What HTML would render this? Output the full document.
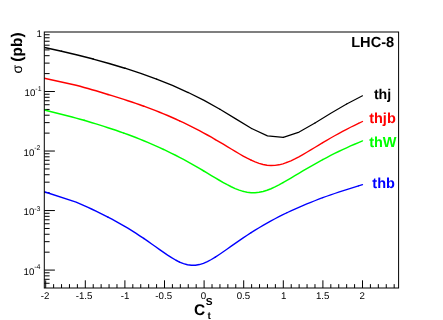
<!DOCTYPE html>
<html><head><meta charset="utf-8"><title>plot</title>
<style>
html,body{margin:0;padding:0;background:#ffffff;}
body{width:443px;height:320px;overflow:hidden;font-family:"Liberation Sans",sans-serif;}
svg{display:block;will-change:transform;}
text{font-family:"Liberation Sans",sans-serif;text-rendering:geometricPrecision;}
.b{font-weight:bold;}
</style></head><body>
<svg width="443" height="320" viewBox="0 0 443 320">
<rect x="0" y="0" width="443" height="320" fill="#ffffff"/>
<defs><clipPath id="fr"><rect x="44.3" y="32.0" width="354.30" height="256.00"/></clipPath></defs>

<path d="M45.70,288.0 v-7.7 M53.62,288.0 v-3.85 M61.54,288.0 v-3.85 M69.46,288.0 v-3.85 M77.38,288.0 v-3.85 M85.30,288.0 v-7.7 M93.22,288.0 v-3.85 M101.14,288.0 v-3.85 M109.06,288.0 v-3.85 M116.98,288.0 v-3.85 M124.90,288.0 v-7.7 M132.82,288.0 v-3.85 M140.74,288.0 v-3.85 M148.66,288.0 v-3.85 M156.58,288.0 v-3.85 M164.50,288.0 v-7.7 M172.42,288.0 v-3.85 M180.34,288.0 v-3.85 M188.26,288.0 v-3.85 M196.18,288.0 v-3.85 M204.10,288.0 v-7.7 M212.02,288.0 v-3.85 M219.94,288.0 v-3.85 M227.86,288.0 v-3.85 M235.78,288.0 v-3.85 M243.70,288.0 v-7.7 M251.62,288.0 v-3.85 M259.54,288.0 v-3.85 M267.46,288.0 v-3.85 M275.38,288.0 v-3.85 M283.30,288.0 v-7.7 M291.22,288.0 v-3.85 M299.14,288.0 v-3.85 M307.06,288.0 v-3.85 M314.98,288.0 v-3.85 M322.90,288.0 v-7.7 M330.82,288.0 v-3.85 M338.74,288.0 v-3.85 M346.66,288.0 v-3.85 M354.58,288.0 v-3.85 M362.50,288.0 v-7.7 M370.42,288.0 v-3.85 M378.34,288.0 v-3.85 M386.26,288.0 v-3.85 M394.18,288.0 v-3.85" stroke="#000" stroke-width="1" fill="none"/>
<path d="M44.3,91.52 h10.6 M44.3,73.60 h5.3 M44.3,63.12 h5.3 M44.3,55.69 h5.3 M44.3,49.92 h5.3 M44.3,45.20 h5.3 M44.3,41.22 h5.3 M44.3,37.77 h5.3 M44.3,34.72 h5.3 M44.3,151.04 h10.6 M44.3,133.12 h5.3 M44.3,122.64 h5.3 M44.3,115.21 h5.3 M44.3,109.44 h5.3 M44.3,104.72 h5.3 M44.3,100.74 h5.3 M44.3,97.29 h5.3 M44.3,94.24 h5.3 M44.3,210.56 h10.6 M44.3,192.64 h5.3 M44.3,182.16 h5.3 M44.3,174.73 h5.3 M44.3,168.96 h5.3 M44.3,164.24 h5.3 M44.3,160.26 h5.3 M44.3,156.81 h5.3 M44.3,153.76 h5.3 M44.3,270.08 h10.6 M44.3,252.16 h5.3 M44.3,241.68 h5.3 M44.3,234.25 h5.3 M44.3,228.48 h5.3 M44.3,223.76 h5.3 M44.3,219.78 h5.3 M44.3,216.33 h5.3 M44.3,213.28 h5.3 M44.3,283.28 h5.3 M44.3,279.30 h5.3 M44.3,275.85 h5.3 M44.3,272.80 h5.3" stroke="#000" stroke-width="1" fill="none"/>
<g clip-path="url(#fr)" fill="none" stroke="#000000" stroke-linejoin="round" stroke-linecap="round">
<path d="M44.30,47.45 L45.70,47.75 L61.54,51.27" stroke-width="1.53"/>
<path d="M61.54,51.27 L77.38,55.04 L93.22,59.09" stroke-width="1.48"/>
<path d="M93.22,59.09 L109.06,63.46 L124.90,68.21" stroke-width="1.44"/>
<path d="M124.90,68.21 L140.74,73.40 L156.58,79.12" stroke-width="1.39"/>
<path d="M156.58,79.12 L172.42,85.46 L188.26,92.52" stroke-width="1.35"/>
<path d="M188.26,92.52 L204.10,100.44 L219.94,109.27" stroke-width="1.30"/>
<path d="M219.94,109.27 L235.78,118.89 L251.62,128.51" stroke-width="1.26"/>
<path d="M251.62,128.51 L267.46,135.83 L283.30,137.35" stroke-width="1.21"/>
<path d="M283.30,137.35 L299.14,132.08 L314.98,123.05" stroke-width="1.17"/>
<path d="M314.98,123.05 L330.82,113.27 L346.66,104.07" stroke-width="1.12"/>
<path d="M346.66,104.07 L362.50,95.76" stroke-width="1.09"/>
</g>
<g clip-path="url(#fr)" fill="none" stroke="#ff0000" stroke-linejoin="round" stroke-linecap="round">
<path d="M44.30,78.30 L76.12,85.28 L80.10,86.35 L84.07,87.45 L88.05,88.56 L92.03,89.70 L96.01,90.85 L99.98,92.03 L103.96,93.23 L107.94,94.46" stroke-width="1.53"/>
<path d="M107.94,94.46 L111.92,95.65 L115.89,96.86 L119.87,98.10 L123.85,99.37 L127.83,100.67 L131.81,102.00 L135.78,103.36 L139.76,104.75 L143.74,106.18" stroke-width="1.50"/>
<path d="M143.74,106.18 L147.72,107.64 L151.69,109.14 L155.67,110.68 L159.65,112.26 L163.62,113.88 L167.60,115.55 L171.58,117.26 L175.56,119.02 L179.53,120.83" stroke-width="1.47"/>
<path d="M179.53,120.83 L183.51,122.69 L187.49,124.61 L191.47,126.57 L195.44,128.60 L199.42,130.67 L203.40,132.81 L207.38,135.00 L211.36,137.24 L215.33,139.53" stroke-width="1.44"/>
<path d="M215.33,139.53 L219.31,141.86 L223.29,144.23 L227.26,146.62 L231.24,149.02 L235.22,151.41 L239.20,153.76 L243.18,156.02 L247.15,158.17 L251.13,160.15" stroke-width="1.41"/>
<path d="M251.13,160.15 L255.11,161.91 L259.08,163.37 L263.06,164.49 L267.04,165.22 L271.02,165.52 L275.00,165.38 L278.97,164.80 L282.95,163.81 L286.93,162.46" stroke-width="1.38"/>
<path d="M286.93,162.46 L290.90,160.80 L294.88,158.89 L298.86,156.80 L302.84,154.56 L306.81,152.24 L310.79,149.87 L314.77,147.47 L318.75,145.07 L322.73,142.69" stroke-width="1.35"/>
<path d="M322.73,142.69 L326.70,140.34 L330.68,138.04 L334.66,135.78 L338.63,133.57 L342.61,131.42 L346.59,129.32 L350.57,127.28 L354.55,125.29 L358.52,123.36" stroke-width="1.32"/>
<path d="M358.52,123.36 L362.50,121.48" stroke-width="1.30"/>
</g>
<g clip-path="url(#fr)" fill="none" stroke="#00ff00" stroke-linejoin="round" stroke-linecap="round">
<path d="M44.30,109.98 L48.28,110.94 L52.26,111.91 L56.23,112.89 L60.21,113.90 L64.19,114.92 L68.16,115.97 L72.14,117.03 L76.12,118.12 L80.10,119.22 L84.07,120.35" stroke-width="1.54"/>
<path d="M84.07,120.35 L88.05,121.51 L92.03,122.68 L96.01,123.89 L99.98,125.12 L103.96,126.37 L107.94,127.66 L111.92,128.98 L115.89,130.32 L119.87,131.70 L123.85,133.12" stroke-width="1.52"/>
<path d="M123.85,133.12 L127.83,134.56 L131.81,136.05 L135.78,137.57 L139.76,139.14 L143.74,140.74 L147.72,142.39 L151.69,144.08 L155.67,145.82 L159.65,147.61 L163.62,149.45" stroke-width="1.50"/>
<path d="M163.62,149.45 L167.60,151.34 L171.58,153.29 L175.56,155.28 L179.53,157.34 L183.51,159.45 L187.49,161.61 L191.47,163.82 L195.44,166.09 L199.42,168.40 L203.40,170.75" stroke-width="1.48"/>
<path d="M203.40,170.75 L207.38,173.13 L211.36,175.51 L215.33,177.90 L219.31,180.25 L223.29,182.54 L227.26,184.72 L231.24,186.76 L235.22,188.58 L239.20,190.15 L243.18,191.39" stroke-width="1.47"/>
<path d="M243.18,191.39 L247.15,192.26 L251.13,192.72 L255.11,192.74 L259.08,192.32 L263.06,191.48 L267.04,190.27 L271.02,188.73 L275.00,186.92 L278.97,184.90 L282.95,182.73" stroke-width="1.45"/>
<path d="M282.95,182.73 L286.93,180.44 L290.90,178.10 L294.88,175.72 L298.86,173.33 L302.84,170.95 L306.81,168.60 L310.79,166.28 L314.77,164.01 L318.75,161.79 L322.73,159.62" stroke-width="1.43"/>
<path d="M322.73,159.62 L326.70,157.51 L330.68,155.45 L334.66,153.45 L338.63,151.50 L342.61,149.61 L346.59,147.77 L350.57,145.97 L354.55,144.23 L358.52,142.53 L362.50,140.88" stroke-width="1.41"/>
</g>
<g clip-path="url(#fr)" fill="none" stroke="#0000ff" stroke-linejoin="round" stroke-linecap="round">
<path d="M44.30,191.70 L76.12,202.16 L80.10,203.85 L84.07,205.58 L88.05,207.37 L92.03,209.21 L96.01,211.10 L99.98,213.05 L103.96,215.06 L107.94,217.13" stroke-width="1.48"/>
<path d="M107.94,217.13 L111.92,219.21 L115.89,221.35 L119.87,223.57 L123.85,225.86 L127.83,228.22 L131.81,230.67 L135.78,233.19 L139.76,235.78 L143.74,238.45" stroke-width="1.45"/>
<path d="M143.74,238.45 L147.72,241.17 L151.69,243.96 L155.67,246.77 L159.65,249.59 L163.62,252.38 L167.60,255.09 L171.58,257.65 L175.56,260.00 L179.53,262.03" stroke-width="1.42"/>
<path d="M179.53,262.03 L183.51,263.64 L187.49,264.76 L191.47,265.30 L195.44,265.23 L199.42,264.56 L203.40,263.33 L207.38,261.61 L211.36,259.51 L215.33,257.11" stroke-width="1.39"/>
<path d="M215.33,257.11 L219.31,254.50 L223.29,251.77 L227.26,248.97 L231.24,246.15 L235.22,243.34 L239.20,240.57 L243.18,237.85 L247.15,235.20 L251.13,232.63" stroke-width="1.36"/>
<path d="M251.13,232.63 L255.11,230.12 L259.08,227.70 L263.06,225.35 L267.04,223.07 L271.02,220.87 L275.00,218.75 L278.97,216.68 L282.95,214.69 L286.93,212.75" stroke-width="1.33"/>
<path d="M286.93,212.75 L290.90,210.88 L294.88,209.06 L298.86,207.30 L302.84,205.59 L306.81,203.92 L310.79,202.31 L314.77,200.74 L318.75,199.21 L322.73,197.72" stroke-width="1.30"/>
<path d="M322.73,197.72 L326.70,196.27 L330.68,194.85 L334.66,193.48 L338.63,192.13 L342.61,190.82 L346.59,189.53 L350.57,188.28 L354.55,187.06 L358.52,185.86" stroke-width="1.27"/>
<path d="M358.52,185.86 L362.50,184.69" stroke-width="1.25"/>
</g>
<rect x="44.3" y="32.0" width="354.30" height="256.00" fill="none" stroke="#000" stroke-width="1"/>
<text x="41.9" y="36.5" font-size="9.7" text-anchor="end" fill="#000">1</text>
<text x="24.60" y="96.42" font-size="9.7" fill="#000">10</text>
<text x="35.30" y="91.02" font-size="7" fill="#000">-1</text>
<text x="23.50" y="155.64" font-size="9.7" fill="#000">10</text>
<text x="34.20" y="150.04" font-size="7" fill="#000">-2</text>
<text x="23.50" y="215.46" font-size="9.7" fill="#000">10</text>
<text x="34.20" y="210.56" font-size="7" fill="#000">-3</text>
<text x="23.50" y="274.68" font-size="9.7" fill="#000">10</text>
<text x="34.20" y="268.58" font-size="7" fill="#000">-4</text>
<text x="45.10" y="298.8" font-size="9.7" text-anchor="middle" fill="#000">-2</text>
<text x="84.10" y="298.8" font-size="9.7" text-anchor="middle" fill="#000">-1.5</text>
<text x="125.00" y="298.8" font-size="9.7" text-anchor="middle" fill="#000">-1</text>
<text x="163.70" y="298.8" font-size="9.7" text-anchor="middle" fill="#000">-0.5</text>
<text x="203.40" y="298.8" font-size="9.7" text-anchor="middle" fill="#000">0</text>
<text x="243.40" y="298.8" font-size="9.7" text-anchor="middle" fill="#000">0.5</text>
<text x="283.60" y="298.8" font-size="9.7" text-anchor="middle" fill="#000">1</text>
<text x="322.70" y="298.8" font-size="9.7" text-anchor="middle" fill="#000">1.5</text>
<text x="362.20" y="298.8" font-size="9.7" text-anchor="middle" fill="#000">2</text>
<text transform="translate(21.9,73.4) rotate(-90)" font-size="14" fill="#000">σ</text>
<text transform="translate(21.8,32.4) rotate(-90)" text-anchor="end" font-size="15.5" class="b" fill="#000">(pb)</text>
<text x="194.0" y="315.1" font-size="15.5" class="b" fill="#000">C</text>
<text x="205.7" y="304.9" font-size="10.2" class="b" fill="#000">S</text>
<text x="207.6" y="318.7" font-size="10.2" class="b" fill="#000">t</text>
<text x="351.2" y="47.1" font-size="14.6" class="b" fill="#000">LHC-8</text>
<text x="373.9" y="98.8" font-size="14.2" class="b" fill="#000">thj</text>
<text x="369.2" y="123.4" font-size="14.5" class="b" fill="#ff0000">thjb</text>
<text x="369.2" y="146.5" font-size="14.5" class="b" fill="#00ff00">thW</text>
<text x="372.3" y="188.0" font-size="14.5" class="b" fill="#0000ff">thb</text>
</svg></body></html>
